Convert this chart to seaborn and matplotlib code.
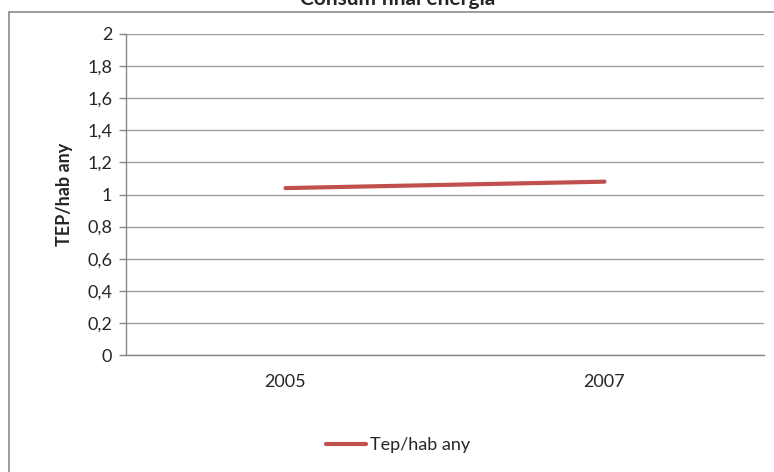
import matplotlib
matplotlib.use("Agg")
import matplotlib.pyplot as plt
import seaborn as sns
import pandas as pd
from matplotlib.lines import Line2D

sns.set_theme(style="white")
plt.rcParams["font.family"] = ["Lato", "DejaVu Sans"]

# data
years = ["2005", "2007"]
tep_hab = [1.04, 1.08]
series_name = "Tep/hab any"
y_ticks = [0, 0.2, 0.4, 0.6, 0.8, 1, 1.2, 1.4, 1.6, 1.8, 2]

df = pd.DataFrame({"Any": years, series_name: tep_hab})

fig = plt.figure(figsize=(7.74, 4.72), dpi=100)
ax = fig.add_axes([126 / 774, 1 - 355 / 472, (764 - 126) / 774, (355 - 34) / 472])

sns.lineplot(data=df, x="Any", y=series_name, color="#C0504D", linewidth=3, ax=ax,
             solid_capstyle="round")

ax.set_xlim(-0.5, 1.5)
ax.set_ylim(0, 2)
ax.set_yticks(y_ticks)
ax.set_yticklabels([f"{v:g}".replace(".", ",") for v in y_ticks])
ax.yaxis.grid(True, color="#A0A0A0", linewidth=1)
ax.set_axisbelow(True)
ax.tick_params(axis="y", length=5, width=1, color="#868686", labelsize=13, pad=5, direction="out", left=True)
ax.tick_params(axis="x", length=0, labelsize=13, pad=14)
for s in ["top", "right"]:
    ax.spines[s].set_visible(False)
for s in ["left", "bottom"]:
    ax.spines[s].set_color("#868686")
    ax.spines[s].set_linewidth(1)

ax.set_xlabel("")
ax.set_ylabel("TEP/hab any", fontsize=13, fontweight="bold", labelpad=10)

# legend below the plot
handle = Line2D([], [], color="#C0504D", linewidth=3)
fig.legend([handle], [series_name], loc="center", bbox_to_anchor=(398 / 774, 1 - 445 / 472),
           frameon=False, fontsize=13, handlelength=2.2, handletextpad=0.2)

# outer chart frame (cropped: only top and left edges visible)
fig.add_artist(Line2D([9 / 774, 1], [1 - 12 / 472, 1 - 12 / 472], transform=fig.transFigure,
                      color="#8C8C8C", linewidth=1.2))
fig.add_artist(Line2D([9 / 774, 9 / 774], [0, 1 - 12 / 472], transform=fig.transFigure,
                      color="#8C8C8C", linewidth=1.2))

# title is cut off at the top of the picture, as in the source
fig.text(398 / 774, 1 - 5 / 472, "Consum final energia", ha="center", va="baseline",
         fontsize=15, fontweight="bold")

fig.savefig("out.png", dpi=100)
